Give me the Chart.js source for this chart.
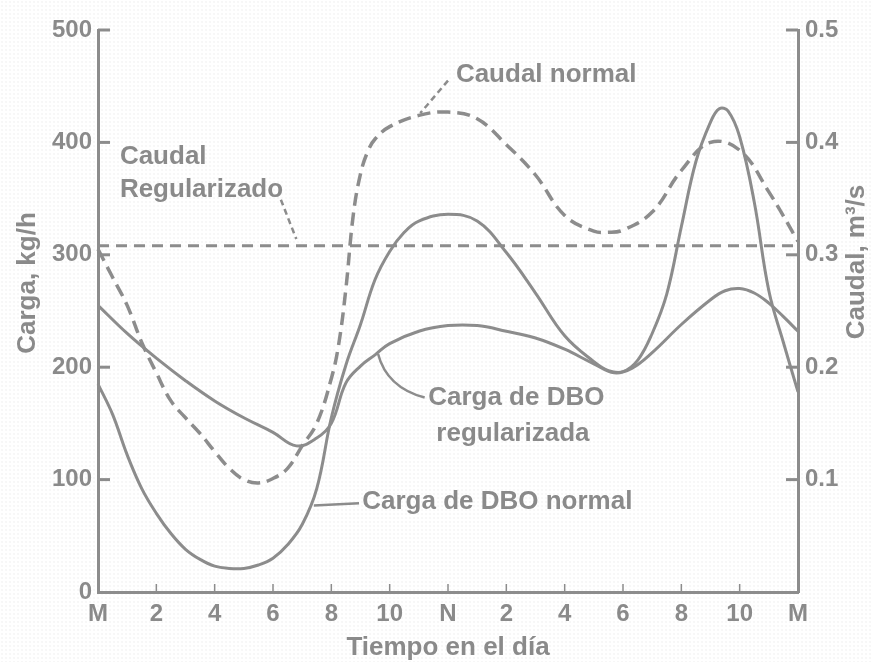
<!DOCTYPE html>
<html lang="es">
<head>
<meta charset="utf-8">
<title>Carga de DBO y caudal a lo largo del día</title>
<script src="https://cdn.jsdelivr.net/npm/chart.js@4.4.1/dist/chart.umd.min.js"></script>
<style>
  html, body { margin: 0; padding: 0; }
  body {
    width: 873px; height: 662px; overflow: hidden;
    background-color: #ffffff;
    background-image: radial-gradient(circle, #e6e6e6 0.5px, transparent 0.8px);
    background-size: 4px 4px;
  }
  #wrap { position: relative; width: 873px; height: 662px; }
  canvas { display: block; }
</style>
</head>
<body>
<div id="wrap"><canvas id="chart" width="873" height="662"></canvas></div>
<script>
// Hour-of-day tick labels (M = medianoche, N = mediodía)
const hourLabels = ['M', '2', '4', '6', '8', '10', 'N', '2', '4', '6', '8', '10', 'M'];

// Carga de DBO normal, kg/h
const dboNormalHours = [0, 0.5, 1, 1.5, 2, 2.5, 3, 3.5, 4, 4.5, 5, 5.5, 6, 6.5, 7, 7.5, 8, 8.5, 9, 9.5, 10, 10.5, 11, 12, 13, 14, 15, 16, 17, 17.5, 18, 18.5, 19, 19.5, 20, 20.5, 21, 21.3, 21.6, 22, 22.5, 23, 23.5, 24];
const dboNormal      = [185, 158, 122, 92, 70, 52, 38, 29, 23, 21, 21, 24, 30, 42, 60, 92, 155, 202, 238, 278, 303, 320, 330, 336, 330, 302, 266, 228, 205, 197, 196, 206, 230, 265, 325, 383, 418, 430, 428, 405, 347, 268, 222, 178];

// Carga de DBO regularizada, kg/h
const dboRegHours = [0, 1, 2, 3, 4, 5, 6, 6.8, 7.5, 8, 8.5, 9, 9.5, 10, 11, 12, 13, 14, 15, 16, 17, 17.7, 18.3, 19, 20, 21, 21.5, 22, 22.5, 23, 23.5, 24];
const dboReg      = [255, 230, 208, 188, 170, 155, 142, 130, 137, 150, 186, 201, 211, 221, 232, 237, 237, 232, 226, 216, 203, 195, 199, 213, 238, 260, 268, 270, 266, 257, 245, 232];

// Caudal normal, m³/s
const caudalNormalHours = [0, 0.5, 1, 1.5, 2, 2.5, 3, 3.5, 4, 4.5, 5, 5.5, 6, 6.5, 7, 7.5, 8, 8.25, 8.5, 8.75, 9, 9.25, 9.5, 10, 11, 12, 13, 14, 15, 16, 17, 17.5, 18, 19, 20, 21, 22, 23, 24];
const caudalNormal      = [0.305, 0.28, 0.255, 0.222, 0.195, 0.17, 0.155, 0.141, 0.125, 0.11, 0.1, 0.097, 0.101, 0.11, 0.13, 0.15, 0.19, 0.22, 0.27, 0.335, 0.372, 0.392, 0.403, 0.414, 0.424, 0.427, 0.421, 0.398, 0.371, 0.335, 0.321, 0.32, 0.322, 0.338, 0.375, 0.4, 0.393, 0.356, 0.312];

// Caudal regularizado, m³/s
const caudalRegHours = [0, 24];
const caudalReg      = [0.308, 0.308];

const INK = '#8a8a8a';
const LINE = '#8c8c8c';
const FONT = "'Liberation Sans', Arial, sans-serif";

const pts = (xs, ys) => xs.map((h, i) => ({ x: h, y: ys[i] }));

// Inward tick marks, callout labels and axis titles
const decor = {
  id: 'decor',
  afterDraw(chart) {
    const { ctx, scales: { x, y, y2 } } = chart;
    const X = v => x.getPixelForValue(v);
    const Y = v => y.getPixelForValue(v);
    ctx.save();

    // tick marks pointing into the plot
    ctx.strokeStyle = LINE;
    ctx.lineWidth = 3;
    ctx.lineCap = 'butt';
    y.ticks.forEach(t => {
      if (t.value === 0) return;
      const py = Y(t.value);
      ctx.beginPath(); ctx.moveTo(x.left, py); ctx.lineTo(x.left + 12, py); ctx.stroke();
    });
    y2.ticks.forEach(t => {
      if (t.value === 0) return;
      const py = y2.getPixelForValue(t.value);
      ctx.beginPath(); ctx.moveTo(x.right - 12, py); ctx.lineTo(x.right, py); ctx.stroke();
    });
    ctx.lineWidth = 1.5;
    x.ticks.forEach(t => {
      if (t.value === 0 || t.value === 24) return;
      const px = X(t.value);
      ctx.beginPath(); ctx.moveTo(px, y.bottom); ctx.lineTo(px, y.bottom - 8); ctx.stroke();
    });

    // callout leader lines
    ctx.lineWidth = 2.5;
    ctx.setLineDash([6, 4]);
    ctx.beginPath(); ctx.moveTo(X(12.0), Y(455)); ctx.lineTo(X(11.05), Y(426)); ctx.stroke();
    ctx.beginPath(); ctx.moveTo(X(6.27), Y(349)); ctx.lineTo(X(6.8), Y(314)); ctx.stroke();
    ctx.setLineDash([]);
    ctx.beginPath();
    ctx.moveTo(X(9.6), Y(212));
    ctx.quadraticCurveTo(X(9.9), Y(182), X(11.2), Y(173));
    ctx.stroke();
    ctx.beginPath(); ctx.moveTo(X(7.4), Y(77)); ctx.lineTo(X(8.95), Y(79)); ctx.stroke();

    // callout labels
    ctx.fillStyle = INK;
    ctx.font = `bold 26px ${FONT}`;
    ctx.textBaseline = 'middle';
    ctx.textAlign = 'left';
    ctx.fillText('Caudal normal', X(12.27), Y(460));
    ctx.fillText('Caudal', X(0.75), Y(387));
    ctx.fillText('Regularizado', X(0.75), Y(358));
    ctx.fillText('Carga de DBO', X(11.32), Y(173));
    ctx.fillText('regularizada', X(11.6), Y(141));
    ctx.fillText('Carga de DBO normal', X(9.06), Y(80));

    // axis titles
    ctx.textAlign = 'center';
    ctx.fillText('Tiempo en el día', 448, 648);
    ctx.save();
    ctx.translate(28, 283);
    ctx.rotate(-Math.PI / 2);
    ctx.fillText('Carga, kg/h', 0, 0);
    ctx.restore();
    ctx.save();
    ctx.translate(857, 262);
    ctx.rotate(-Math.PI / 2);
    ctx.fillText('Caudal, m³/s', 0, 0);
    ctx.restore();

    ctx.restore();
  }
};

const tickFont = { family: FONT, size: 24, weight: 'bold' };
const curve = { pointRadius: 0, fill: false, tension: 0.4, borderColor: LINE };

new Chart(document.getElementById('chart'), {
  type: 'line',
  data: {
    datasets: [
      {
        label: 'Caudal regularizado',
        data: pts(caudalRegHours, caudalReg),
        yAxisID: 'y2',
        borderColor: LINE, borderWidth: 3, borderDash: [11, 7],
        pointRadius: 0, fill: false
      },
      Object.assign({
        label: 'Caudal normal',
        data: pts(caudalNormalHours, caudalNormal),
        yAxisID: 'y2',
        borderWidth: 3.5, borderDash: [13, 7]
      }, curve),
      Object.assign({
        label: 'Carga de DBO regularizada',
        data: pts(dboRegHours, dboReg),
        yAxisID: 'y',
        borderWidth: 3
      }, curve),
      Object.assign({
        label: 'Carga de DBO normal',
        data: pts(dboNormalHours, dboNormal),
        yAxisID: 'y',
        borderWidth: 3
      }, curve)
    ]
  },
  options: {
    responsive: false,
    animation: false,
    devicePixelRatio: 1,
    clip: 6,
    layout: { padding: { top: 30, left: 0, right: 0, bottom: 0 } },
    plugins: { legend: { display: false }, tooltip: { enabled: false } },
    scales: {
      x: {
        type: 'linear', min: 0, max: 24,
        grid: { display: false, drawTicks: false },
        border: { display: true, color: LINE, width: 3 },
        ticks: {
          stepSize: 2, autoSkip: false, maxRotation: 0, padding: 8,
          color: INK, font: tickFont,
          callback: (v, i) => hourLabels[i]
        },
        afterFit: s => { s.height = 70; }
      },
      y: {
        position: 'left', min: 0, max: 500,
        grid: { display: false, drawTicks: false },
        border: { display: true, color: LINE, width: 3 },
        ticks: { stepSize: 100, padding: 6, color: INK, font: tickFont },
        afterFit: s => { s.width = 98; }
      },
      y2: {
        position: 'right', min: 0, max: 0.5,
        grid: { display: false, drawTicks: false },
        border: { display: true, color: LINE, width: 3 },
        ticks: {
          stepSize: 0.1, padding: 7, color: INK, font: tickFont,
          callback: v => (v === 0 ? '' : v.toFixed(1))
        },
        afterFit: s => { s.width = 75; }
      }
    }
  },
  plugins: [decor]
});
</script>
</body>
</html>
